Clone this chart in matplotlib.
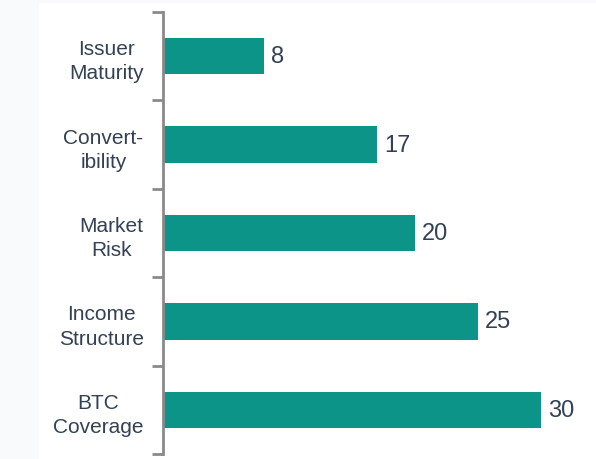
import matplotlib.pyplot as plt
from matplotlib.patches import Rectangle

categories = ['Issuer\nMaturity', 'Convert-\nibility', 'Market\nRisk', 'Income\nStructure', 'BTC\nCoverage']
scores = [8, 17, 20, 25, 30]

W, H = 596, 460
fig = plt.figure(figsize=(W / 100, H / 100), dpi=100, facecolor='#f8fafc')
# white card behind the chart
card = Rectangle((39 / W, 0), 1 - 39 / W, 1 - 4 / H, transform=fig.transFigure,
                 facecolor='white', edgecolor='none', zorder=-10)
fig.add_artist(card)

ax = fig.add_axes([163 / W, 5 / H, 1 - 163 / W, (455 - 13) / H])
ax.set_facecolor('none')
ax.set_zorder(5)

pos = list(range(len(categories)))
bars = ax.barh(pos, scores, height=0.41, color='#0d9488')
for b, v in zip(bars, scores):
    ax.text(b.get_width() + 0.55, b.get_y() + b.get_height() / 2, str(v),
            va='center', ha='left', fontsize=17, color='#334155', family='Liberation Sans')

ax.set_xlim(0, (W - 163) / 12.6)
ax.set_ylim(len(categories) - 0.5, -0.5)

for s in ['top', 'right', 'bottom']:
    ax.spines[s].set_visible(False)
ax.spines['left'].set_color('#8a8a8a')
ax.spines['left'].set_linewidth(2)
ax.set_xticks([])

ax.set_yticks(pos)
ax.set_yticklabels(categories, fontsize=15, color='#334155', family='Liberation Sans')
for t in ax.get_yticklabels():
    t.set_multialignment('center')
    t.set_linespacing(1.35)
ax.tick_params(axis='y', which='major', length=0, pad=14)
ax.set_yticks([p - 0.5 for p in pos] + [len(categories) - 0.5], minor=True)
ax.tick_params(axis='y', which='minor', length=8, width=2, color='#8a8a8a')

fig.savefig('out.png', dpi=100, facecolor=fig.get_facecolor())
